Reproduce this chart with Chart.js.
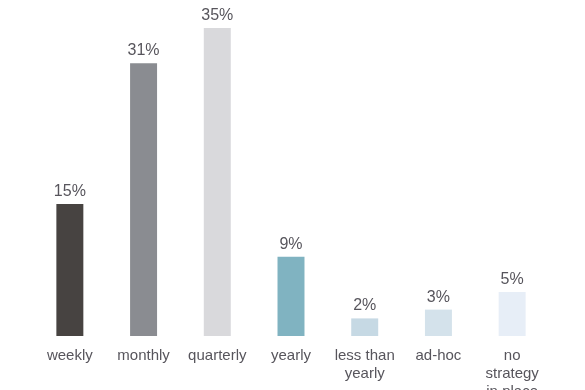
<!DOCTYPE html>
<html>
<head>
<meta charset="utf-8">
<script src="https://cdn.jsdelivr.net/npm/chart.js@4"></script>
<style>
  html, body { margin: 0; padding: 0; background: #ffffff; }
  #wrap { width: 585px; height: 390px; position: relative; }
</style>
</head>
<body>
<div id="wrap"><canvas id="chart"></canvas></div>
<script>
// chart data
const categories = ['weekly', 'monthly', 'quarterly', 'yearly', ['less than', 'yearly'], 'ad-hoc', ['no', 'strategy', 'in place']];
const percentages = [15, 31, 35, 9, 2, 3, 5];
const barColors = ['#474341', '#8a8c91', '#d9d9dc', '#80b3c1', '#c6d9e4', '#d4e2eb', '#e7eef7'];

const textColor = '#57555c';
const fontFamily = "'Liberation Sans', Arial, sans-serif";

// draws the "15%" style labels over each bar
const valueLabels = {
  id: 'valueLabels',
  afterDatasetsDraw(chart) {
    let ctx = chart.ctx;
    let meta = chart.getDatasetMeta(0);
    ctx.save();
    ctx.font = '16px ' + fontFamily;
    ctx.fillStyle = textColor;
    ctx.textAlign = 'center';
    ctx.textBaseline = 'alphabetic';
    meta.data.forEach((bar, i) => {
      ctx.fillText(percentages[i] + '%', bar.x, bar.y - 8);
    });
    ctx.restore();
  }
};

let ctx = document.getElementById('chart').getContext('2d');
window.myChart = new Chart(ctx, {
  type: 'bar',
  data: {
    labels: categories,
    datasets: [{
      data: percentages,
      backgroundColor: barColors,
      borderWidth: 0,
      barPercentage: 0.366,
      categoryPercentage: 1
    }]
  },
  options: {
    responsive: true,
    maintainAspectRatio: false,
    animation: false,
    layout: { padding: { left: 33, right: 36, top: 28, bottom: 0 } },
    plugins: {
      legend: { display: false },
      tooltip: { enabled: false }
    },
    scales: {
      x: {
        grid: { display: false },
        border: { display: false },
        ticks: {
          color: textColor,
          font: { family: fontFamily, size: 15, lineHeight: 1.2 },
          padding: 3,
          maxRotation: 0,
          autoSkip: false
        },
        afterFit(scale) { scale.height = 54; }
      },
      y: {
        display: false,
        min: 0,
        max: 35
      }
    }
  },
  plugins: [valueLabels]
});
</script>
</body>
</html>
